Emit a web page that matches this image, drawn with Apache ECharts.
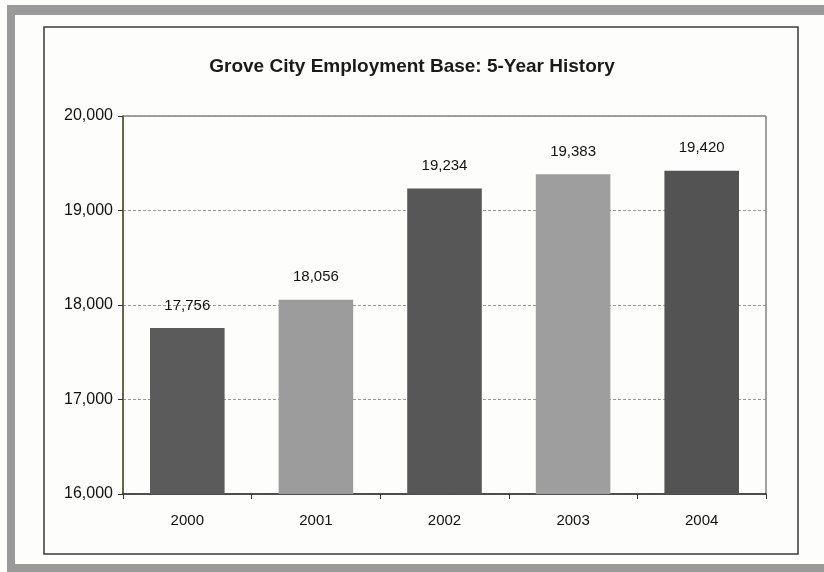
<!DOCTYPE html>
<html>
  <head>
    <meta charset="utf-8" />
    <title>Grove City Employment Base</title>
    <script src="https://cdn.jsdelivr.net/npm/echarts@6.0.0/dist/echarts.min.js"></script>
    <style>
      body {
        margin: 0;
        padding: 0;
        background: #fdfdfc;
      }
      #main {
        width: 824px;
        height: 572px;
      }
    </style>
  </head>
  <body>
    <div id="main"></div>
    <script type="text/javascript">
      var years = ["2000", "2001", "2002", "2003", "2004"];
      var employment = [17756, 18056, 19234, 19383, 19420];
      var barColors = ["#5b5b5b", "#9c9c9c", "#575757", "#9e9e9e", "#535353"];
      var yTicks = [16000, 17000, 18000, 19000, 20000];

      var myChart = echarts.init(document.getElementById("main"));

      var option = {
        backgroundColor: "#fdfdfc",
        textStyle: { fontFamily: "Liberation Sans, Arial, sans-serif" },
        title: {
          text: "Grove City Employment Base: 5-Year History",
          left: "center",
          top: 52,
          textStyle: {
            fontSize: 19,
            fontWeight: "bold",
            color: "#1a1a1a",
            fontFamily: "Liberation Sans, Arial, sans-serif",
          },
        },
        graphic: [
          // scanned page frame
          { type: "rect", shape: { x: 7, y: 5, width: 817, height: 10 }, style: { fill: "#9a9a9a" } },
          { type: "rect", shape: { x: 7, y: 5, width: 8, height: 567 }, style: { fill: "#9a9a9a" } },
          { type: "rect", shape: { x: 7, y: 564, width: 817, height: 8 }, style: { fill: "#9a9a9a" } },
          // chart box
          {
            type: "rect",
            shape: { x: 44, y: 27, width: 754, height: 527 },
            style: { fill: "none", stroke: "#3a3a3a", lineWidth: 1.5 },
          },
        ],
        grid: {
          left: 123,
          top: 116,
          right: 58,
          bottom: 78,
          show: true,
          borderColor: "#444",
          borderWidth: 1,
          backgroundColor: "transparent",
        },
        xAxis: {
          type: "category",
          data: years,
          axisLine: { lineStyle: { color: "#333", width: 1.5 } },
          axisTick: { show: true, length: 5, lineStyle: { color: "#333" } },
          axisLabel: { fontSize: 15, color: "#111", margin: 19 },
        },
        yAxis: {
          type: "value",
          min: yTicks[0],
          max: yTicks[yTicks.length - 1],
          interval: 1000,
          axisLine: { show: true, lineStyle: { color: "#55502a", width: 1.5 } },
          axisTick: { show: true, length: 5, lineStyle: { color: "#333" } },
          axisLabel: {
            fontSize: 16,
            color: "#111",
            margin: 10,
            formatter: function (v) {
              return v.toLocaleString("en-US");
            },
          },
          splitLine: {
            show: true,
            lineStyle: { color: "#999", type: [3, 2], width: 1 },
          },
        },
        series: [
          {
            type: "bar",
            barWidth: "58%",
            data: employment.map(function (v, i) {
              return { value: v, itemStyle: { color: barColors[i] } };
            }),
            label: {
              show: true,
              position: "top",
              distance: 15,
              fontSize: 15,
              color: "#111",
              formatter: function (p) {
                return p.value.toLocaleString("en-US");
              },
            },
          },
        ],
      };

      myChart.setOption(option);
    </script>
  </body>
</html>
